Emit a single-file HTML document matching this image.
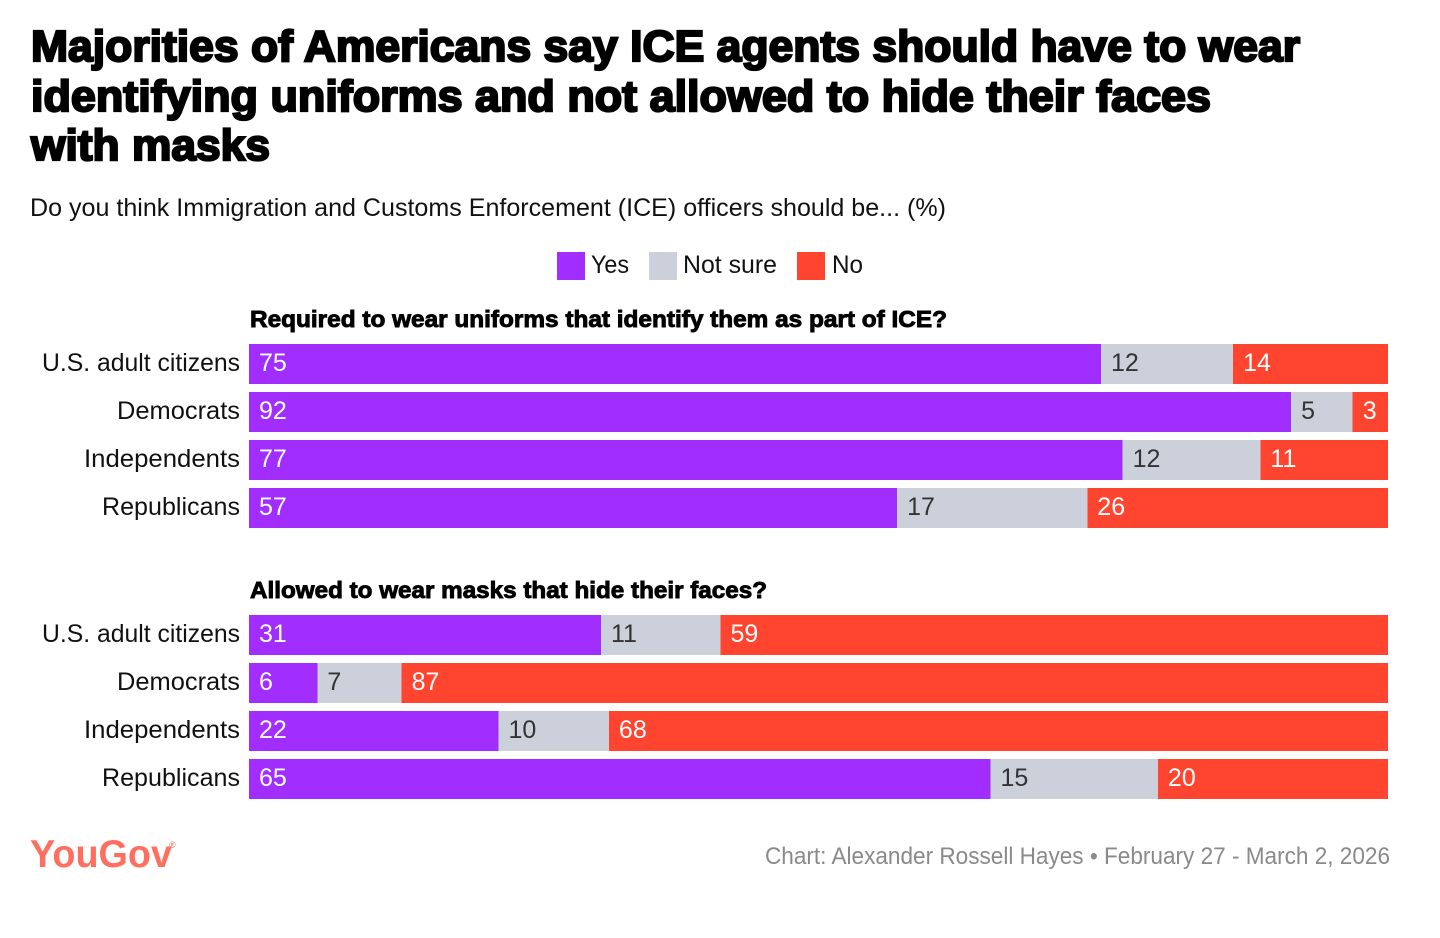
<!DOCTYPE html>
<html lang="en">
<head>
<meta charset="utf-8">
<title>ICE agents uniforms and masks chart</title>
<style>
html,body{margin:0;padding:0;background:#fff;width:1440px;height:938px;overflow:hidden}
svg{display:block}
text{font-family:"Liberation Sans",sans-serif}
.title{font-size:44px;font-weight:700;fill:#000;stroke:#000;stroke-width:2.2px;paint-order:stroke}
.sub{font-size:25px;fill:#111}
.leg{font-size:25px;fill:#111}
.head{font-size:23.5px;font-weight:700;fill:#000;stroke:#000;stroke-width:.9px}
.cat{font-size:25px;fill:#111;text-anchor:end}
.val{font-size:25px}
.foot{font-size:24px;fill:#8a8a8a}
.logo{font-size:39px;font-weight:700;fill:#ff6f60}
.reg{font-size:9px;fill:#ff6f60}
</style>
</head>
<body>
<svg id="chart" width="1440" height="938" viewBox="0 0 1440 938" xmlns="http://www.w3.org/2000/svg">
  <g>
    <text class="title" x="31" y="61" textLength="1269" lengthAdjust="spacingAndGlyphs">Majorities of Americans say ICE agents should have to wear</text>
    <text class="title" x="31" y="111" textLength="1180" lengthAdjust="spacingAndGlyphs">identifying uniforms and not allowed to hide their faces</text>
    <text class="title" x="31" y="160" textLength="239" lengthAdjust="spacingAndGlyphs">with masks</text>
  </g>
  <text class="sub" x="30" y="216" textLength="916" lengthAdjust="spacingAndGlyphs">Do you think Immigration and Customs Enforcement (ICE) officers should be... (%)</text>

  <g>
    <rect x="557" y="252" width="28" height="28" fill="#a12eff"/>
    <text class="leg" x="591" y="273" textLength="38" lengthAdjust="spacingAndGlyphs">Yes</text>
    <rect x="649" y="252" width="28" height="28" fill="#cbd0da"/>
    <text class="leg" x="683" y="273" textLength="94" lengthAdjust="spacingAndGlyphs">Not sure</text>
    <rect x="797" y="252" width="28" height="28" fill="#ff4530"/>
    <text class="leg" x="832" y="273" textLength="31" lengthAdjust="spacingAndGlyphs">No</text>
  </g>

  <text class="head" x="250" y="327" textLength="697" lengthAdjust="spacingAndGlyphs">Required to wear uniforms that identify them as part of ICE?</text>
  <text class="head" x="250" y="598" textLength="517" lengthAdjust="spacingAndGlyphs">Allowed to wear masks that hide their faces?</text>

  <g id="bars-uniforms"></g>
  <g id="bars-masks"></g>

  <g>
    <text class="logo" x="30" y="867" textLength="142" lengthAdjust="spacingAndGlyphs">YouGov</text>
    <text class="reg" x="169" y="848">®</text>
  </g>
  <text class="foot" x="765" y="864" textLength="625" lengthAdjust="spacingAndGlyphs">Chart: Alexander Rossell Hayes • February 27 - March 2, 2026</text>
</svg>

<script>
const categories = ["U.S. adult citizens", "Democrats", "Independents", "Republicans"];
const uniformsYes = [74.8, 91.5, 76.7, 56.9];
const uniformsNotSure = [11.6, 5.4, 12.1, 16.7];
const uniformsNo = [13.6, 3.1, 11.2, 26.4];
const masksYes = [30.9, 6.0, 21.9, 65.1];
const masksNotSure = [10.5, 7.4, 9.7, 14.7];
const masksNo = [58.6, 86.6, 68.4, 20.2];

const SVG_NS = "http://www.w3.org/2000/svg";
const PLOT_LEFT = 249;
const PLOT_RIGHT = 1388;
const ROW_STEP = 48;
const BAR_HEIGHT = 40;
const COLORS = { yes: "#a12eff", notSure: "#cbd0da", no: "#ff4530" };
const TEXT_COLORS = { yes: "#ffffff", notSure: "#333333", no: "#ffffff" };

function xScale(pct) {
  return PLOT_LEFT + (PLOT_RIGHT - PLOT_LEFT) * pct / 100;
}
function rowY(top, i) {
  return top + i * ROW_STEP;
}

function drawPanel(groupId, top, yes, notSure, no) {
  const group = document.getElementById(groupId);
  categories.forEach(function (cat, i) {
    const y = rowY(top, i);

    const label = document.createElementNS(SVG_NS, "text");
    label.setAttribute("class", "cat");
    label.setAttribute("x", 240);
    label.setAttribute("y", y + 27);
    
    
    label.textContent = cat;
    group.appendChild(label);
    fitCategory(label, cat);

    const parts = [
      { key: "yes", values: yes },
      { key: "notSure", values: notSure },
      { key: "no", values: no }
    ];
    let cumulative = 0;
    parts.forEach(function (part) {
      const v = part.values[i];
      const x0 = xScale(cumulative);
      const x1 = xScale(cumulative + v);
      cumulative += v;

      const rect = document.createElementNS(SVG_NS, "rect");
      rect.setAttribute("x", x0);
      rect.setAttribute("y", y);
      rect.setAttribute("width", x1 - x0);
      rect.setAttribute("height", BAR_HEIGHT);
      rect.setAttribute("fill", COLORS[part.key]);
      rect.setAttribute("shape-rendering", "crispEdges");
      
      
      group.appendChild(rect);

      const value = document.createElementNS(SVG_NS, "text");
      value.setAttribute("class", "val");
      value.setAttribute("x", x0 + 10);
      value.setAttribute("y", y + 27);
      value.setAttribute("fill", TEXT_COLORS[part.key]);
      
      
      value.textContent = String(Math.round(v));
      group.appendChild(value);
    });
  });
}

function fitCategory(label, cat) {
  const target = { "U.S. adult citizens": 198, "Democrats": 123, "Independents": 156, "Republicans": 138 }[cat];
  label.setAttribute("textLength", target);
  label.setAttribute("lengthAdjust", "spacingAndGlyphs");
}

drawPanel("bars-uniforms", 344, uniformsYes, uniformsNotSure, uniformsNo);
drawPanel("bars-masks", 615, masksYes, masksNotSure, masksNo);
</script>
</body>
</html>
